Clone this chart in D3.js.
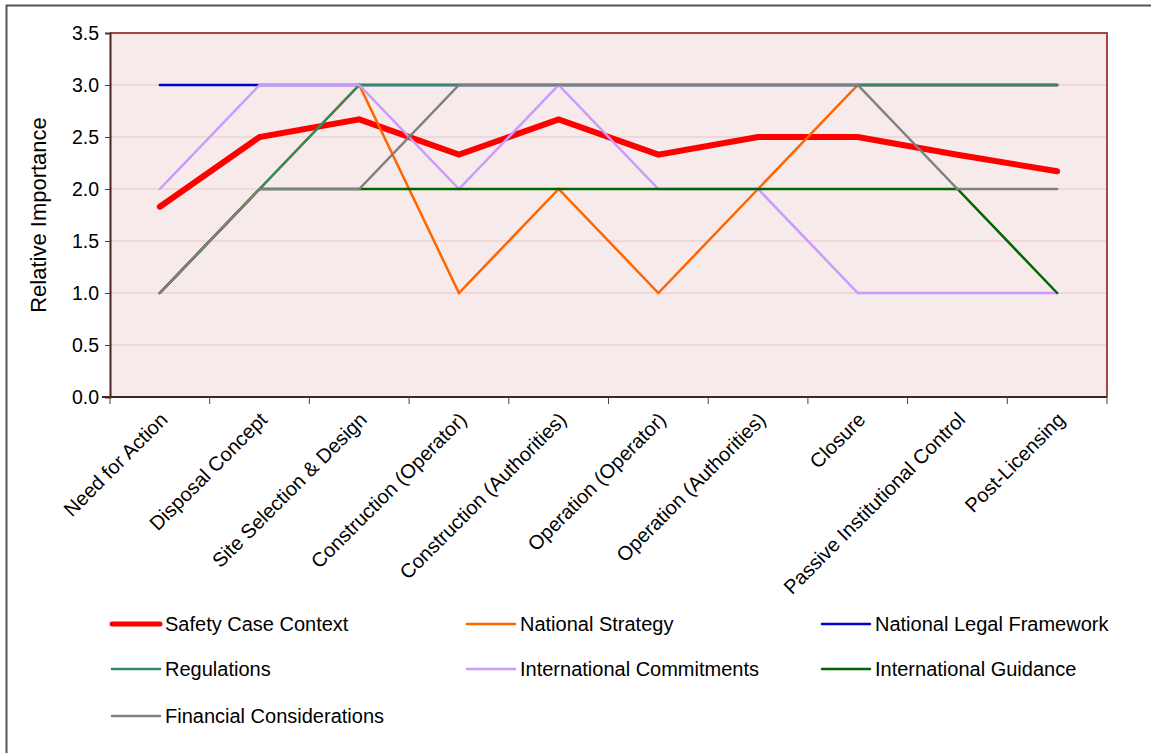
<!DOCTYPE html>
<html>
<head>
<meta charset="utf-8">
<script src="https://cdn.jsdelivr.net/npm/d3@7"></script>
<style>
  body { margin: 0; background: #fff; }
  text { font-family: Arial, "Liberation Sans", sans-serif; fill: #000; }
</style>
</head>
<body>
<div id="chart"></div>
<script>
// categories and series values
const stages = ["Need for Action", "Disposal Concept", "Site Selection & Design",
  "Construction (Operator)", "Construction (Authorities)", "Operation (Operator)",
  "Operation (Authorities)", "Closure", "Passive Institutional Control", "Post-Licensing"];

const safetyCase    = [1.83, 2.5, 2.67, 2.33, 2.67, 2.33, 2.5, 2.5, 2.33, 2.17];
const natStrategy   = [1, 2, 3, 1, 2, 1, 2, 3, 3, 3];
const natLegal      = [3, 3, 3, 3, 3, 3, 3, 3, 3, 3];
const regulations   = [1, 2, 3, 3, 3, 3, 3, 3, 3, 3];
const intCommit     = [2, 3, 3, 2, 3, 2, 2, 1, 1, 1];
const intGuidance   = [1, 2, 2, 2, 2, 2, 2, 2, 2, 1];
const financial     = [1, 2, 2, 3, 3, 3, 3, 3, 2, 2];

const yTicks = [0, 0.5, 1, 1.5, 2, 2.5, 3, 3.5];

const series = [
  { name: "Safety Case Context", values: safetyCase, color: "#ff0000", w: 6 },
  { name: "National Strategy", values: natStrategy, color: "#ff6600", w: 2.5 },
  { name: "National Legal Framework", values: natLegal, color: "#0000cc", w: 2.5 },
  { name: "Regulations", values: regulations, color: "#2e8b62", w: 2.5 },
  { name: "International Commitments", values: intCommit, color: "#cc99ff", w: 2.5 },
  { name: "International Guidance", values: intGuidance, color: "#006600", w: 2.5 },
  { name: "Financial Considerations", values: financial, color: "#808080", w: 2.5 }
];

const W = 1151, H = 753;
const plot = { left: 110, top: 33, right: 1107, bottom: 397 };

const svg = d3.select("#chart").append("svg")
  .attr("width", W).attr("height", H);

// outer chart border
svg.append("rect")
  .attr("x", 6.5).attr("y", 5.5)
  .attr("width", 1300).attr("height", 900)
  .attr("fill", "#fff").attr("stroke", "#555").attr("stroke-width", 2);

const x = d3.scaleBand().domain(stages).range([plot.left, plot.right]);
const y = d3.scaleLinear().domain([0, 3.5]).range([plot.bottom, plot.top]);
const cx = d => x(d) + x.bandwidth() / 2;

// plot area background
svg.append("rect")
  .attr("x", plot.left).attr("y", plot.top)
  .attr("width", plot.right - plot.left).attr("height", plot.bottom - plot.top)
  .attr("fill", "#f7eaea");

// gridlines
svg.append("g").selectAll("line")
  .data(yTicks.filter(d => d > 0 && d < 3.5))
  .join("line")
    .attr("x1", plot.left).attr("x2", plot.right)
    .attr("y1", d => y(d)).attr("y2", d => y(d))
    .attr("stroke", "#e8c6c6").attr("stroke-width", 1);

// frame (top/right)
svg.append("path")
  .attr("d", `M${plot.left},${plot.top}H${plot.right}V${plot.bottom}`)
  .attr("fill", "none").attr("stroke", "#a04848").attr("stroke-width", 2);

// y axis
const yAxis = svg.append("g")
  .attr("transform", `translate(${plot.left},0)`)
  .call(d3.axisLeft(y).tickValues(yTicks).tickFormat(d3.format(".1f")).tickSize(5).tickPadding(6));
yAxis.select(".domain").attr("stroke", "#4a2222").attr("stroke-width", 2);
yAxis.selectAll(".tick line").attr("stroke", "#444");
yAxis.selectAll(".tick text").style("font-size", "19.5px");

// x axis with ticks at category boundaries
const xAxis = svg.append("g")
  .attr("transform", `translate(0,${plot.bottom})`);
xAxis.append("line")
  .attr("x1", plot.left - 8).attr("x2", plot.right)
  .attr("stroke", "#4a2222").attr("stroke-width", 2);
xAxis.selectAll(".bt")
  .data(stages.map(d => x(d)).concat([plot.right]))
  .join("line")
    .attr("class", "bt")
    .attr("x1", d => d).attr("x2", d => d)
    .attr("y1", 0).attr("y2", 7)
    .attr("stroke", "#444");
xAxis.selectAll(".lbl")
  .data(stages)
  .join("text")
    .attr("class", "lbl")
    .attr("transform", d => `translate(${cx(d) + 4},${19}) rotate(-45)`)
    .attr("text-anchor", "end")
    .attr("dy", "0.35em")
    .style("font-size", "20px")
    .text(d => d);

// y axis title
svg.append("text")
  .attr("transform", `translate(38,${(plot.top + plot.bottom) / 2}) rotate(-90)`)
  .attr("text-anchor", "middle")
  .attr("dy", "0.35em")
  .style("font-size", "22px")
  .text("Relative Importance");

// lines
const line = d3.line()
  .x((d, i) => cx(stages[i]))
  .y(d => y(d));

svg.append("g").selectAll("path")
  .data(series)
  .join("path")
    .attr("d", d => line(d.values))
    .attr("fill", "none")
    .attr("stroke", d => d.color)
    .attr("stroke-width", d => d.w)
    .attr("stroke-linecap", "round")
    .attr("stroke-linejoin", "miter");

// legend
const legCols = [110, 465, 820];
const legRows = [624, 669, 716];
const leg = svg.append("g").selectAll("g")
  .data(series)
  .join("g")
    .attr("transform", (d, i) => `translate(${legCols[i % 3]},${legRows[Math.floor(i / 3)]})`);
leg.append("line")
  .attr("x1", 2).attr("x2", 50)
  .attr("stroke", d => d.color)
  .attr("stroke-width", d => Math.min(d.w, 5))
  .attr("stroke-linecap", "round");
leg.append("text")
  .attr("x", 55).attr("dy", "0.35em")
  .style("font-size", "20px")
  .text(d => d.name);
</script>
</body>
</html>
